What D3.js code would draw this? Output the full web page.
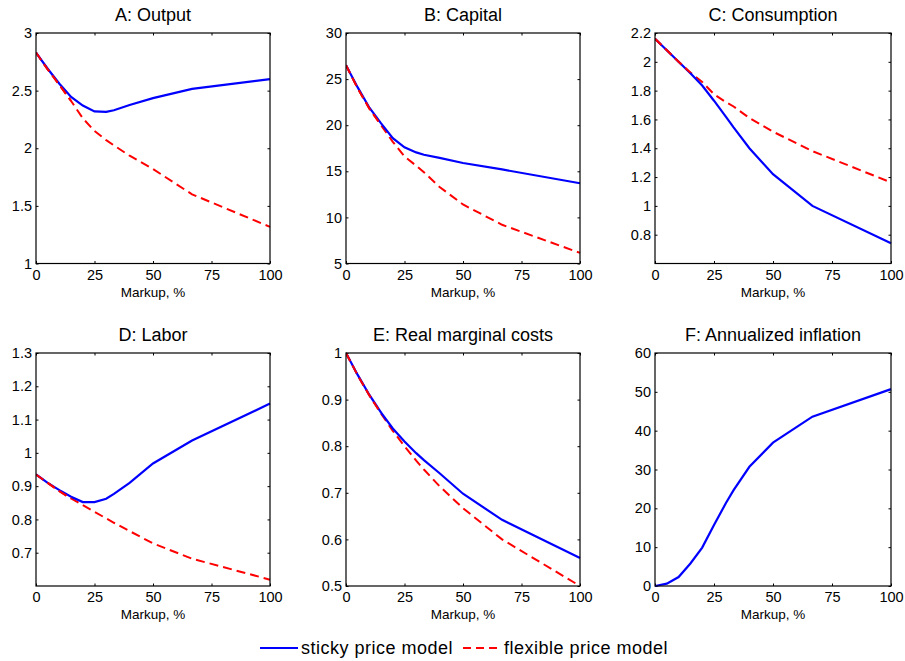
<!DOCTYPE html>
<html>
<head>
<meta charset="utf-8">
<script src="https://cdn.jsdelivr.net/npm/d3@7"></script>
<style>
  html, body { margin: 0; padding: 0; background: #fff; }
  svg { display: block; font-family: "Liberation Sans", Arial, sans-serif; }
</style>
</head>
<body>
<svg id="chart" width="905" height="661"></svg>
<script>
// ---------- data ----------
const markup = [0, 5, 10, 15, 20, 25, 30, 33.3, 40, 50, 66.7, 100];

const outputSticky = [2.83, 2.69, 2.56, 2.445, 2.37, 2.32, 2.315, 2.33, 2.375, 2.435, 2.515, 2.60];
const outputFlex   = [2.83, 2.685, 2.55, 2.41, 2.26, 2.15, 2.07, 2.025, 1.935, 1.82, 1.60, 1.318];

const capitalSticky = [26.5, 24.1, 21.9, 20.2, 18.6, 17.6, 17.05, 16.8, 16.45, 15.9, 15.2, 13.7];
const capitalFlex   = [26.5, 24.0, 21.8, 20.0, 18.2, 16.6, 15.6, 14.9, 13.3, 11.4, 9.2, 6.15];

const consSticky = [2.16, 2.08, 2.0, 1.92, 1.835, 1.73, 1.62, 1.545, 1.40, 1.22, 1.0, 0.74];
const consFlex   = [2.16, 2.08, 2.0, 1.925, 1.86, 1.775, 1.72, 1.69, 1.61, 1.515, 1.38, 1.163];

const laborSticky = [0.935, 0.91, 0.888, 0.868, 0.852, 0.852, 0.862, 0.877, 0.91, 0.968, 1.037, 1.148];
const laborFlex   = [0.935, 0.91, 0.885, 0.863, 0.843, 0.823, 0.803, 0.79, 0.765, 0.728, 0.682, 0.619];

const rmcSticky = [1.0, 0.953, 0.91, 0.872, 0.838, 0.81, 0.785, 0.77, 0.742, 0.698, 0.642, 0.56];
const rmcFlex   = [1.0, 0.952, 0.909, 0.87, 0.833, 0.80, 0.769, 0.75, 0.714, 0.667, 0.60, 0.50];

const inflSticky = [0, 0.6, 2.3, 5.8, 9.9, 15.7, 21.3, 24.7, 30.7, 36.9, 43.6, 50.7];

const titles = ["A: Output", "B: Capital", "C: Consumption", "D: Labor", "E: Real marginal costs", "F: Annualized inflation"];
const xTicks = [0, 25, 50, 75, 100];
const yTicksA = [1, 1.5, 2, 2.5, 3];
const yTicksB = [5, 10, 15, 20, 25, 30];
const yTicksC = [0.8, 1, 1.2, 1.4, 1.6, 1.8, 2, 2.2];
const yTicksD = [0.7, 0.8, 0.9, 1, 1.1, 1.2, 1.3];
const yTicksE = [0.5, 0.6, 0.7, 0.8, 0.9, 1];
const yTicksF = [0, 10, 20, 30, 40, 50, 60];
const xLabel = "Markup, %";
const legendLabels = ["sticky price model", "flexible price model"];

// ---------- layout ----------
const colX = [[36, 270], [346, 580], [655, 891]];
const rowY = [[33, 263.5], [353, 586]];

const panels = [
  {title: titles[0], dom: [1, 3],     ticks: yTicksA, sticky: outputSticky,  flex: outputFlex,  col: 0, row: 0},
  {title: titles[1], dom: [5, 30],    ticks: yTicksB, sticky: capitalSticky, flex: capitalFlex, col: 1, row: 0},
  {title: titles[2], dom: [0.6, 2.2], ticks: yTicksC, sticky: consSticky,    flex: consFlex,    col: 2, row: 0},
  {title: titles[3], dom: [0.6, 1.3], ticks: yTicksD, sticky: laborSticky,   flex: laborFlex,   col: 0, row: 1},
  {title: titles[4], dom: [0.5, 1],   ticks: yTicksE, sticky: rmcSticky,     flex: rmcFlex,     col: 1, row: 1},
  {title: titles[5], dom: [0, 60],    ticks: yTicksF, sticky: inflSticky,    flex: null,        col: 2, row: 1}
];

const svg = d3.select("#chart");
const BLUE = "#0000ff", RED = "#ff0000";
const tickLen = 2.5;
const fmt = d => String(+d.toFixed(2));

panels.forEach(p => {
  const [x0, x1] = colX[p.col];
  const [y0, y1] = rowY[p.row];
  const x = d3.scaleLinear().domain([0, 100]).range([x0, x1]);
  const y = d3.scaleLinear().domain(p.dom).range([y1, y0]);
  const g = svg.append("g");

  const cid = "clip" + p.col + p.row;
  g.append("clipPath").attr("id", cid).append("rect")
    .attr("x", x0).attr("y", y0 - 2).attr("width", x1 - x0 + 2).attr("height", y1 - y0 + 4);

  const axB = g.append("g").attr("transform", `translate(0,${y1})`)
    .call(d3.axisBottom(x).tickValues(xTicks).tickFormat(fmt).tickSizeInner(-tickLen).tickSizeOuter(0).tickPadding(6));
  const axT = g.append("g").attr("transform", `translate(0,${y0})`)
    .call(d3.axisTop(x).tickValues(xTicks).tickFormat("").tickSizeInner(-tickLen).tickSizeOuter(0));
  const axL = g.append("g").attr("transform", `translate(${x0},0)`)
    .call(d3.axisLeft(y).tickValues(p.ticks).tickFormat(fmt).tickSizeInner(-tickLen).tickSizeOuter(0).tickPadding(4));
  const axR = g.append("g").attr("transform", `translate(${x1},0)`)
    .call(d3.axisRight(y).tickValues(p.ticks).tickFormat("").tickSizeInner(-tickLen).tickSizeOuter(0));
  [axB, axT, axL, axR].forEach(a => {
    a.select(".domain").remove();
    a.selectAll("line").attr("stroke", "#000").attr("stroke-width", 1);
    a.selectAll("text").attr("font-size", 14.5).attr("fill", "#000")
      .attr("font-family", "'Liberation Sans', Arial, sans-serif");
  });
  axB.selectAll("text").attr("dy", "0.71em");

  const line = d3.line().x((d, i) => x(markup[i])).y(d => y(d));
  if (p.flex) {
    g.append("path").attr("clip-path", `url(#${cid})`).datum(p.flex)
      .attr("d", line).attr("fill", "none").attr("stroke", RED)
      .attr("stroke-width", 2).attr("stroke-dasharray", "9,5");
  }
  g.append("path").attr("clip-path", `url(#${cid})`).datum(p.sticky)
    .attr("d", line).attr("fill", "none").attr("stroke", BLUE).attr("stroke-width", 2.2);
  if (p.flex) {
    g.append("path").attr("clip-path", `url(#${cid})`).datum(p.flex.slice(0, 4))
      .attr("d", line).attr("fill", "none").attr("stroke", RED)
      .attr("stroke-width", 2).attr("stroke-dasharray", "9,5");
  }

  g.append("rect").attr("x", x0).attr("y", y0).attr("width", x1 - x0).attr("height", y1 - y0)
    .attr("fill", "none").attr("stroke", "#000").attr("stroke-width", 1.2);

  g.append("text").attr("x", (x0 + x1) / 2).attr("y", y0 - 12)
    .attr("text-anchor", "middle").attr("font-size", 18).attr("fill", "#000").text(p.title);

  g.append("text").attr("x", (x0 + x1) / 2).attr("y", y1 + 33)
    .attr("text-anchor", "middle").attr("font-size", 13.5).attr("fill", "#000").text(xLabel);
});

// ---------- legend ----------
const lg = svg.append("g");
const ly = 648;
lg.append("line").attr("x1", 260).attr("x2", 298).attr("y1", ly).attr("y2", ly)
  .attr("stroke", BLUE).attr("stroke-width", 2.2);
lg.append("text").attr("x", 301).attr("y", ly + 6).attr("font-size", 18).attr("letter-spacing", 0.5)
  .attr("fill", "#000").text(legendLabels[0]);
lg.append("line").attr("x1", 463).attr("x2", 502).attr("y1", ly).attr("y2", ly)
  .attr("stroke", RED).attr("stroke-width", 2.2).attr("stroke-dasharray", "8,5");
lg.append("text").attr("x", 504).attr("y", ly + 6).attr("font-size", 18).attr("letter-spacing", 0.5)
  .attr("fill", "#000").text(legendLabels[1]);
</script>
</body>
</html>
